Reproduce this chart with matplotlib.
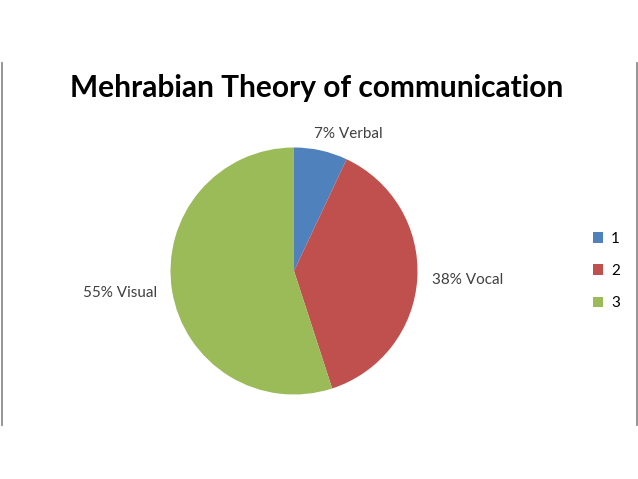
import matplotlib
matplotlib.use("Agg")
import matplotlib.pyplot as plt
from matplotlib.lines import Line2D
from matplotlib.patches import Patch

# data
categories = ["1", "2", "3"]
shares = [7, 38, 55]
slice_labels = ["7% Verbal", "38% Vocal", "55% Visual"]
colors = ["#4F81BD", "#C0504D", "#9BBB59"]

W, H = 638, 479
fig = plt.figure(figsize=(W / 100, H / 100), dpi=100)
fig.patch.set_facecolor("white")

# thin gray frame lines on both sides
fig.add_artist(Line2D([1.5 / W, 1.5 / W], [1 - 63 / H, 1 - 425 / H], color="#8c8c8c", lw=1.3))
fig.add_artist(Line2D([636.5 / W, 636.5 / W], [1 - 63 / H, 1 - 425 / H], color="#8c8c8c", lw=1.3))

# pie axes: center ~ (294, 271), radius ~123 px
cx, cy, r = 294, 271, 123.5
ax = fig.add_axes([(cx - r) / W, 1 - (cy + r) / H, 2 * r / W, 2 * r / H])
wedges, texts = ax.pie(shares, labels=slice_labels, colors=colors, startangle=90,
                       counterclock=False, radius=1, labeldistance=1.12,
                       textprops=dict(fontsize=11, color="#404040", family="Lato"))
ax.set_xlim(-1, 1)
ax.set_ylim(-1, 1)
ax.set_aspect("equal")
ax.axis("off")

# nudge the small-slice label the way the original sits it
x, y = texts[0].get_position()
texts[0].set_position((x - 0.08, y + 0.02))

fig.text(317 / W, 1 - 88 / H, "Mehrabian Theory of communication", ha="center", va="center",
         fontsize=21.5, fontweight="bold", family="Lato", color="black")

handles = [Patch(facecolor=c, edgecolor="none") for c in colors]
fig.legend(handles, categories, loc="center left", bbox_to_anchor=(579 / W, 1 - 271 / H),
           frameon=False, handlelength=0.7, handleheight=0.7, handletextpad=0.5,
           labelspacing=1.2, prop=dict(family="Lato", size=11))

fig.savefig("out.png", dpi=100, facecolor="white")
